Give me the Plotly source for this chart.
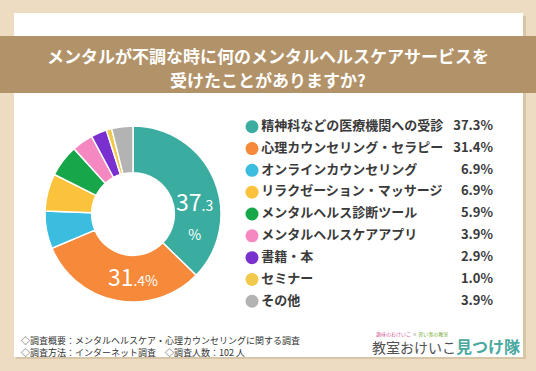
import plotly.graph_objects as go

categories = ["精神科などの医療機関への受診", "心理カウンセリング・セラピー", "オンラインカウンセリング",
              "リラクゼーション・マッサージ", "メンタルヘルス診断ツール", "メンタルヘルスケアアプリ",
              "書籍・本", "セミナー", "その他"]
values = [37.3, 31.4, 6.9, 6.9, 5.9, 3.9, 2.9, 1.0, 3.9]
colors = ["#3aada0", "#f6893a", "#3bbde0", "#fbc33b", "#17a64a", "#f588c1", "#7a30cf", "#f1c94c", "#b3b3b4"]
pct_labels = [f"{v:.1f}%" for v in values]
title_lines = ["メンタルが不調な時に何のメンタルヘルスケアサービスを", "受けたことがありますか?"]
footer_lines = ["◇調査概要：メンタルヘルスケア・心理カウンセリングに関する調査",
                "◇調査方法：インターネット調査　◇調査人数：102 人"]

FONT = "Noto Sans CJK JP"
W, H = 536, 371

def px(x):
    return x / W

def py(y):
    return 1 - y / H

# inside slice labels: only the two largest slices
slice_text = []
for i, v in enumerate(values):
    ip, dp = f"{v:.1f}".split(".")
    if i == 0:
        slice_text.append(f"{ip}<span style='font-size:14px'>.{dp}<br>%</span>")
    elif i == 1:
        slice_text.append(f"{ip}<span style='font-size:14px'>.{dp}%</span>")
    else:
        slice_text.append("")

fig = go.Figure()

fig.add_trace(go.Pie(
    labels=categories, values=values, text=slice_text,
    texttemplate="%{text}", textposition="inside", insidetextorientation="horizontal",
    textfont=dict(family=FONT, size=23, color="white"),
    marker=dict(colors=colors, line=dict(color="white", width=1.5)),
    hole=0.47, sort=False, direction="clockwise", rotation=0,
    domain=dict(x=[px(45), px(221)], y=[py(302), py(126)]),
    showlegend=False, hoverinfo="label+percent",
))

rows = list(range(len(categories)))
fig.add_trace(go.Scatter(
    x=[0] * len(categories), y=rows, mode="markers+text",
    marker=dict(color=colors, size=13),
    text=categories, textposition="middle right",
    textfont=dict(family=FONT, size=13, color="#3a3a3a", weight="bold"),
    showlegend=False, hoverinfo="skip", xaxis="x", yaxis="y", cliponaxis=False,
))
fig.add_trace(go.Scatter(
    x=[1] * len(categories), y=rows, mode="text",
    text=pct_labels, textposition="middle left",
    textfont=dict(family=FONT, size=13, color="#3a3a3a", weight="bold"),
    showlegend=False, hoverinfo="skip", xaxis="x", yaxis="y", cliponaxis=False,
))

shapes = [
    dict(type="rect", xref="paper", yref="paper", x0=0, x1=1, y0=0, y1=1,
         fillcolor="#eddcc1", line=dict(width=0), layer="below"),
    dict(type="rect", xref="paper", yref="paper", x0=px(16), x1=px(526), y0=py(359), y1=py(16),
         fillcolor="#d8c6a8", line=dict(width=0), layer="below"),
    dict(type="rect", xref="paper", yref="paper", x0=px(14), x1=px(523), y0=py(357), y1=py(13),
         fillcolor="white", line=dict(width=0), layer="below"),
    dict(type="rect", xref="paper", yref="paper", x0=0, x1=1, y0=py(93), y1=py(36),
         fillcolor="#b29268", line=dict(width=0), layer="below"),
]

annotations = [
    dict(text=title_lines[0], xref="paper", yref="paper", x=0.5, y=py(56), showarrow=False,
         font=dict(family=FONT, size=17, color="white", weight="bold"), xanchor="center", yanchor="middle"),
    dict(text=title_lines[1], xref="paper", yref="paper", x=0.5, y=py(79), showarrow=False,
         font=dict(family=FONT, size=17, color="white", weight="bold"), xanchor="center", yanchor="middle"),
    dict(text=footer_lines[0], xref="paper", yref="paper", x=px(19), y=py(340), showarrow=False,
         font=dict(family=FONT, size=9, color="#333333"), xanchor="left", yanchor="middle"),
    dict(text=footer_lines[1], xref="paper", yref="paper", x=px(19), y=py(352), showarrow=False,
         font=dict(family=FONT, size=9, color="#333333"), xanchor="left", yanchor="middle"),
    dict(text="<span style='color:#d9669a'>趣味のおけいこ</span> × <span style='color:#7ab03c'>習い事の教室</span>",
         xref="paper", yref="paper", x=px(374), y=py(334), showarrow=False,
         font=dict(family=FONT, size=5, color="#777777"), xanchor="left", yanchor="middle"),
    dict(text="教室おけいこ<span style='font-size:16px;color:#49a9a0;font-weight:bold'>見つけ隊</span>",
         xref="paper", yref="paper", x=px(370), y=py(346), showarrow=False,
         font=dict(family=FONT, size=14, color="#505050"), xanchor="left", yanchor="middle"),
]

fig.update_layout(
    width=W, height=H, margin=dict(l=0, r=0, t=0, b=0),
    paper_bgcolor="#eddcc1", plot_bgcolor="rgba(0,0,0,0)",
    shapes=shapes, annotations=annotations,
    xaxis=dict(domain=[px(240), px(500)], range=[-0.0498, 1.029], visible=False, fixedrange=True),
    yaxis=dict(domain=[py(310), py(118)], range=[8.4, -0.4], visible=False, fixedrange=True),
)

fig.write_html("out.html", config={"displayModeBar": False},
               post_script="document.body.style.margin='0';document.body.style.overflow='hidden';")
